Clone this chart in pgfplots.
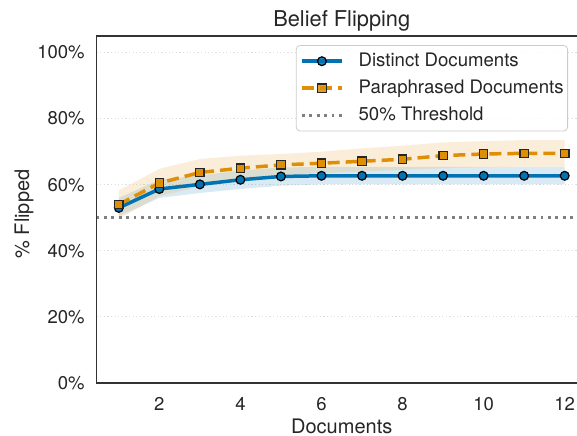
\documentclass[border=0pt]{standalone}
\usepackage{pgfplots}
\pgfplotsset{compat=1.18}
\usepackage{pgfplotstable}
\usepgfplotslibrary{fillbetween}
\usepackage{fontspec}
\setmainfont{TeX Gyre Heros}
\definecolor{cblue}{HTML}{0173B2}
\definecolor{corange}{HTML}{DE8F05}
\definecolor{spine}{HTML}{333333}
\definecolor{txt}{HTML}{262626}
\definecolor{gridc}{HTML}{DDDDDD}

\pgfplotstableread{
x d dlo dhi p plo phi
1 53.0 50.5 56.0 54.0 49.7 58.3
2 58.7 56.0 61.5 60.5 56.5 64.8
3 60.1 57.5 62.8 63.7 59.5 67.8
4 61.5 58.7 64.3 65.0 61.0 68.8
5 62.5 59.7 65.2 66.0 63.0 69.3
6 62.7 60.1 65.4 66.5 63.5 70.0
7 62.7 60.1 65.4 67.1 64.0 71.0
8 62.7 60.1 65.4 67.7 64.5 71.8
9 62.7 60.1 65.4 68.8 65.0 72.8
10 62.7 60.1 65.4 69.3 65.3 73.2
11 62.7 60.1 65.4 69.5 65.5 73.5
12 62.7 60.1 65.4 69.5 65.5 73.5
}\data

\begin{document}
\begin{tikzpicture}
\begin{axis}[
  at={(48.25pt,26pt)}, anchor=south west,
  scale only axis,
  width=245.25pt, height=173.5pt,
  xmin=0.45, xmax=12.55,
  ymin=0, ymax=105,
  xtick={2,4,6,8,10,12},
  ytick={0,20,40,60,80,100},
  yticklabel={\pgfmathprintnumber{\tick}\%},
  /pgf/number format/assume math mode=true,
  major tick length=0pt,
  axis line style={spine, line width=0.8pt},
  ymajorgrids,
  grid style={gridc, line width=0.5pt, dash pattern=on 0.6pt off 1.2pt},
  tick label style={font=\fontsize{9.25}{11}\selectfont, text=txt},
  xticklabel style={anchor=base, yshift=-13.5pt, inner sep=0pt},
  yticklabel style={anchor=east, xshift=-5.75pt, inner sep=0pt},
  xlabel={Documents},
  ylabel={\% Flipped},
  label style={font=\fontsize{10}{12}\selectfont, text=txt},
  xlabel style={at={(axis description cs:0.5,0)}, anchor=base, yshift=-25.3pt, inner sep=0pt},
  ylabel style={at={(axis description cs:-0.1480,0.487)}, anchor=center, rotate=0, inner sep=0pt},
  title={Belief Flipping},
  title style={font=\fontsize{10.9}{13}\selectfont, text=txt, at={(axis description cs:0.5,1)}, anchor=base, yshift=-1pt, inner sep=0pt},
  legend cell align=left,
  legend style={at={(axis description cs:0.9613,0.974)}, anchor=north east,
    draw=black!20, rounded corners=2pt, fill=white, fill opacity=0.85, text opacity=1,
    font=\fontsize{9.3}{11}\selectfont, text=txt,
    inner xsep=2pt, inner ysep=3.5pt, row sep=4.7pt, column sep=7.5pt,
    nodes={inner sep=0pt, text height=6.8pt, text depth=2pt}},
  legend image code/.code={\draw[mark repeat=2,mark phase=2,#1] plot coordinates {(0pt,0pt) (10pt,0pt) (20pt,0pt)};},
  clip=true,
]
\addplot[draw=none, name path=blo, forget plot] table[x=x, y=dlo] {\data};
\addplot[draw=none, name path=bhi, forget plot] table[x=x, y=dhi] {\data};
\addplot[cblue, fill opacity=0.15, draw=none, forget plot] fill between[of=blo and bhi];
\addplot[draw=none, name path=olo, forget plot] table[x=x, y=plo] {\data};
\addplot[draw=none, name path=ohi, forget plot] table[x=x, y=phi] {\data};
\addplot[corange, fill opacity=0.15, draw=none, forget plot] fill between[of=olo and ohi];

\addplot[cblue, line width=1.75pt, mark=*, mark size=2.2pt,
  mark options={fill=cblue, draw=black, line width=0.6pt, solid}] table[x=x, y=d] {\data};
\addlegendentry{Distinct Documents}
\addplot[corange, line width=1.75pt, dash pattern=on 6pt off 3pt, mark=square*, mark size=2.1pt,
  mark options={fill=corange, draw=black!85, line width=0.6pt, solid}] table[x=x, y=p] {\data};
\addlegendentry{Paraphrased Documents}
\addplot[black!50, line width=1.4pt, dash pattern=on 1.4pt off 2.3pt] coordinates {(0.45,50) (12.55,50)};
\addlegendentry{50\% Threshold}
\end{axis}
\pgfresetboundingbox
\useasboundingbox (0,0) rectangle (288.5pt,217.5pt);
\end{tikzpicture}
\end{document}
